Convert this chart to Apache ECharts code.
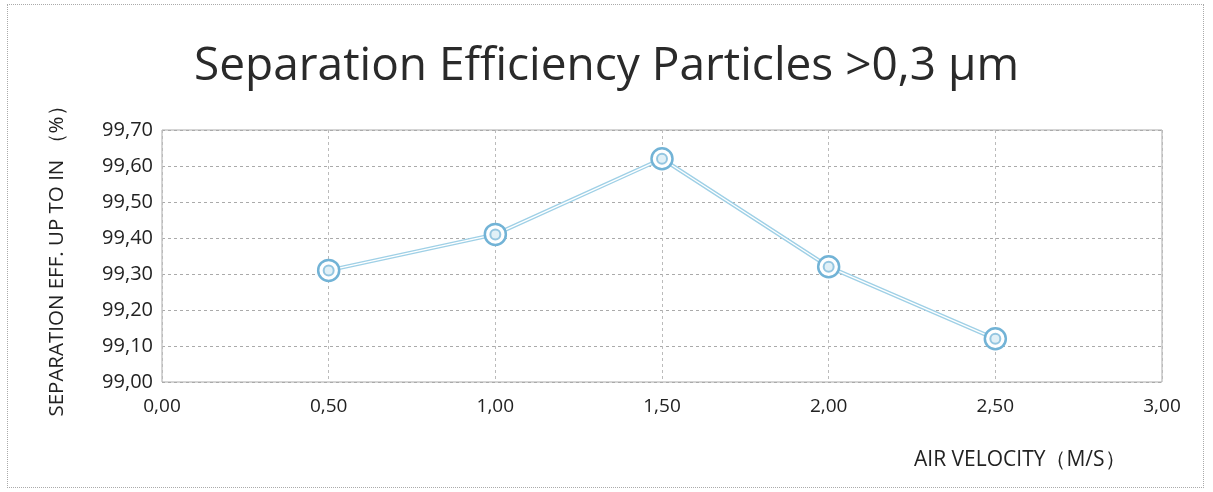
<!DOCTYPE html>
<html><head><meta charset="utf-8">
<script src="https://cdn.jsdelivr.net/npm/echarts@6/dist/echarts.min.js"></script>
<style>
html,body{margin:0;padding:0;background:#fff;}
#frame{position:absolute;left:7px;top:4px;width:1197px;height:484px;border:1px dotted #aaa;box-sizing:border-box;}
#c{width:1213px;height:492px;position:absolute;left:0;top:0;}
</style></head>
<body><div id="frame"></div><div id="c"></div>
<script>
const titleText = 'Separation Efficiency Particles >0,3 µm';
const yAxisTitle = 'SEPARATION EFF. UP TO IN （%）';
const xAxisTitle = 'AIR VELOCITY（M/S）';
const airVelocity = [0.5, 1.0, 1.5, 2.0, 2.5];
const efficiency = [99.31, 99.41, 99.62, 99.32, 99.12];

const pts = airVelocity.map((x, i) => [x, efficiency[i]]);
const fmt = v => v.toFixed(2).replace('.', ',');
const font = '"Open Sans", "Noto Sans", sans-serif';
const chart = echarts.init(document.getElementById('c'));
chart.setOption({
  backgroundColor: 'transparent',
  animation: false,
  title: {text: titleText, left: 'center', top: 39,
    textStyle: {fontFamily: font, fontSize: 46, fontWeight: 'normal', color: '#2a2a2a'}},
  grid: {left: 162, right: 51, top: 130, bottom: 110, show: true,
    borderColor: '#aaa', borderWidth: 1},
  xAxis: {type: 'value', min: 0, max: 3, interval: 0.5,
    axisLine: {show: false}, axisTick: {show: false},
    axisLabel: {formatter: fmt, fontFamily: font, fontSize: 19, color: '#222', margin: 15},
    splitLine: {show: true, lineStyle: {color: '#bbb', type: [3, 3], width: 1}}},
  yAxis: {type: 'value', min: 99.0, max: 99.7, interval: 0.1,
    axisLine: {show: false}, axisTick: {show: false},
    axisLabel: {formatter: fmt, fontFamily: font, fontSize: 20, color: '#222', margin: 9},
    name: yAxisTitle, nameLocation: 'middle', nameGap: 94, nameRotate: 90,
    nameTextStyle: {fontFamily: font, fontSize: 20.5, color: '#222'},
    splitLine: {show: true, lineStyle: {color: '#aaa', type: [3, 3], width: 1}}},
  graphic: [{type: 'text', left: 914, top: 450,
    style: {text: xAxisTitle, font: '21px ' + font, fill: '#222'}}],
  series: [
    {type: 'line', data: pts, symbol: 'none', silent: true,
     lineStyle: {color: '#9fd0e6', width: 4}, z: 2},
    {type: 'line', data: pts, symbol: 'circle', symbolSize: 21,
     lineStyle: {color: '#ffffff', width: 1.3},
     itemStyle: {color: '#ffffff', borderColor: '#72b3d6', borderWidth: 2.5}, z: 3},
    {type: 'scatter', data: pts, symbol: 'circle', symbolSize: 10,
     itemStyle: {color: '#d8ecf5', borderColor: '#7db9d9', borderWidth: 2}, z: 4}
  ]
});
</script></body></html>
